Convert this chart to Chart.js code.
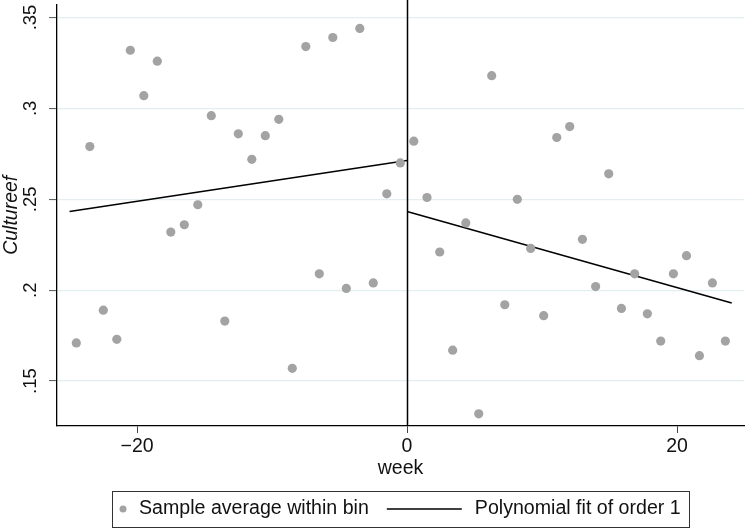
<!DOCTYPE html>
<html>
<head>
<meta charset="utf-8">
<script src="https://cdn.jsdelivr.net/npm/chart.js@4"></script>
<style>
  body { margin: 0; background: #fff; }
  #wrap { width: 750px; height: 528px; }
</style>
</head>
<body>
<div id="wrap"><canvas id="rd-chart" width="750" height="528"></canvas></div>
<script>
'use strict';

// binned sample averages (x = bin centre in weeks)
var weeks = [-24.5, -23.5, -22.5, -21.5, -20.5, -19.5, -18.5, -17.5, -16.5, -15.5, -14.5, -13.5, -12.5,
  -11.5, -10.5, -9.5, -8.5, -7.5, -6.5, -5.5, -4.5, -3.5, -2.5, -1.5, -0.5,
  0.5, 1.48, 2.42, 3.38, 4.35, 5.31, 6.27, 7.24, 8.17, 9.16, 10.12, 11.09, 12.05,
  12.99, 13.97, 14.94, 15.88, 16.86, 17.8, 18.79, 19.73, 20.7, 21.66, 22.62, 23.58];
var binAverages = [0.171, 0.279, 0.189, 0.173, 0.332, 0.307, 0.326, 0.232, 0.236, 0.247, 0.296, 0.183, 0.286,
  0.272, 0.285, 0.294, 0.157, 0.334, 0.209, 0.339, 0.201, 0.344, 0.204, 0.253, 0.270,
  0.282, 0.251, 0.221, 0.167, 0.237, 0.132, 0.318, 0.192, 0.250, 0.223, 0.186, 0.284, 0.290,
  0.228, 0.202, 0.264, 0.190, 0.209, 0.187, 0.172, 0.209, 0.219, 0.164, 0.204, 0.172];

// linear fits either side of the cutoff
var fitLeftX = [-25, 0];
var fitLeftY = [0.2433, 0.2713];
var fitRightX = [0, 24.05];
var fitRightY = [0.2433, 0.193];

var xTicks = [-20, 0, 20];
var yTicks = [0.15, 0.2, 0.25, 0.3, 0.35];
var cutoff = 0;

var legendLabels = ['Sample average within bin', 'Polynomial fit of order 1'];

var FONT = 'Liberation Sans, Arial, Helvetica, sans-serif';
var DOT_COLOR = '#a3a3a3';

function toPoints(xs, ys) {
  var result = [];
  xs.forEach(function (x, i) {
    result.push({ x: x, y: ys[i] });
  });
  return result;
}

// vertical line at the cutoff
var cutoffLine = {
  id: 'cutoffLine',
  afterDatasetsDraw: function (chart) {
    var ctx = chart.ctx;
    var x = Math.round(chart.scales.x.getPixelForValue(cutoff)) + 0.5;
    ctx.save();
    ctx.strokeStyle = '#000';
    ctx.lineWidth = 1.5;
    ctx.beginPath();
    ctx.moveTo(x, 0);
    ctx.lineTo(x, chart.chartArea.bottom);
    ctx.stroke();
    ctx.restore();
  }
};

// stata style boxed legend under the plot
var boxLegend = {
  id: 'boxLegend',
  afterDraw: function (chart) {
    var ctx = chart.ctx;
    var area = chart.chartArea;
    ctx.save();
    ctx.font = '19.6px ' + FONT;
    var w1 = ctx.measureText(legendLabels[0]).width;
    var w2 = ctx.measureText(legendLabels[1]).width;
    var total = 11 + 16 + w1 + 18 + 75 + 13 + w2 + 8;
    var left = Math.round((area.left + area.right) / 2 - total / 2);
    var top = 491, h = 36, cy = top + h / 2;

    ctx.strokeStyle = '#333';
    ctx.lineWidth = 1;
    ctx.strokeRect(left + 0.5, top + 0.5, Math.round(total), h);

    ctx.fillStyle = DOT_COLOR;
    ctx.beginPath();
    ctx.arc(left + 11, cy, 3.5, 0, Math.PI * 2);
    ctx.fill();

    ctx.fillStyle = '#111';
    ctx.textBaseline = 'middle';
    ctx.textAlign = 'left';
    var tx = left + 11 + 16;
    ctx.fillText(legendLabels[0], tx, cy);

    var lx = tx + w1 + 18;
    ctx.strokeStyle = '#000';
    ctx.lineWidth = 1.5;
    ctx.beginPath();
    ctx.moveTo(lx, cy);
    ctx.lineTo(lx + 75, cy);
    ctx.stroke();

    ctx.fillText(legendLabels[1], lx + 75 + 13, cy);
    ctx.restore();
  }
};

var ctx = document.getElementById('rd-chart');
var rdChart = new Chart(ctx, {
  type: 'scatter',
  data: {
    datasets: [{
      label: legendLabels[0],
      data: toPoints(weeks, binAverages),
      backgroundColor: DOT_COLOR,
      borderWidth: 0,
      pointRadius: 4.6
    }, {
      type: 'line',
      label: legendLabels[1],
      data: toPoints(fitLeftX, fitLeftY),
      borderColor: '#000',
      borderWidth: 1.5,
      pointRadius: 0,
      fill: false
    }, {
      type: 'line',
      label: 'right fit',
      data: toPoints(fitRightX, fitRightY),
      borderColor: '#000',
      borderWidth: 1.5,
      pointRadius: 0,
      fill: false
    }]
  },
  options: {
    responsive: false,
    animation: false,
    layout: { padding: { left: 0, right: 6, top: 3, bottom: 0 } },
    plugins: {
      legend: { display: false },
      tooltip: { enabled: false }
    },
    scales: {
      x: {
        type: 'linear',
        min: -25.93,
        max: 24.96,
        afterBuildTicks: function (scale) {
          scale.ticks = xTicks.map(function (v) { return { value: v }; });
        },
        afterFit: function (scale) {
          scale.height = 102;
          scale.paddingLeft = 0;
          scale.paddingRight = 0;
        },
        grid: { drawOnChartArea: false, tickLength: 7, tickColor: '#444', tickWidth: 1 },
        border: { color: '#000', width: 1.3 },
        ticks: {
          color: '#111',
          font: { family: FONT, size: 19.5 },
          padding: 2,
          maxRotation: 0,
          callback: function (v) { return v < 0 ? '\u2212' + Math.abs(v) : String(v); }
        },
        title: {
          display: true,
          text: 'week',
          color: '#111',
          font: { family: FONT, size: 19.5 },
          padding: { top: 0, bottom: 48 }
        }
      },
      y: {
        min: 0.1253,
        max: 0.3571,
        afterBuildTicks: function (scale) {
          scale.ticks = yTicks.map(function (v) { return { value: v }; });
        },
        afterFit: function (scale) {
          scale.width = 57;
          scale.paddingTop = 0;
          scale.paddingBottom = 0;
        },
        grid: { color: '#e4eef0', lineWidth: 1.2, tickLength: 8, tickColor: '#555', tickWidth: 1 },
        border: { color: '#000', width: 1.3 },
        ticks: {
          color: '#111',
          font: { family: FONT, size: 18.5 },
          minRotation: 90,
          maxRotation: 90,
          crossAlign: 'center',
          padding: 5.5,
          callback: function (v) { return String(Math.round(v * 100) / 100).replace(/^0/, ''); }
        },
        title: {
          display: true,
          text: 'Cultureef',
          color: '#111',
          font: { family: FONT, size: 19.5, style: 'italic' },
          padding: 0
        }
      }
    }
  },
  plugins: [cutoffLine, boxLegend]
});
</script>
</body>
</html>
